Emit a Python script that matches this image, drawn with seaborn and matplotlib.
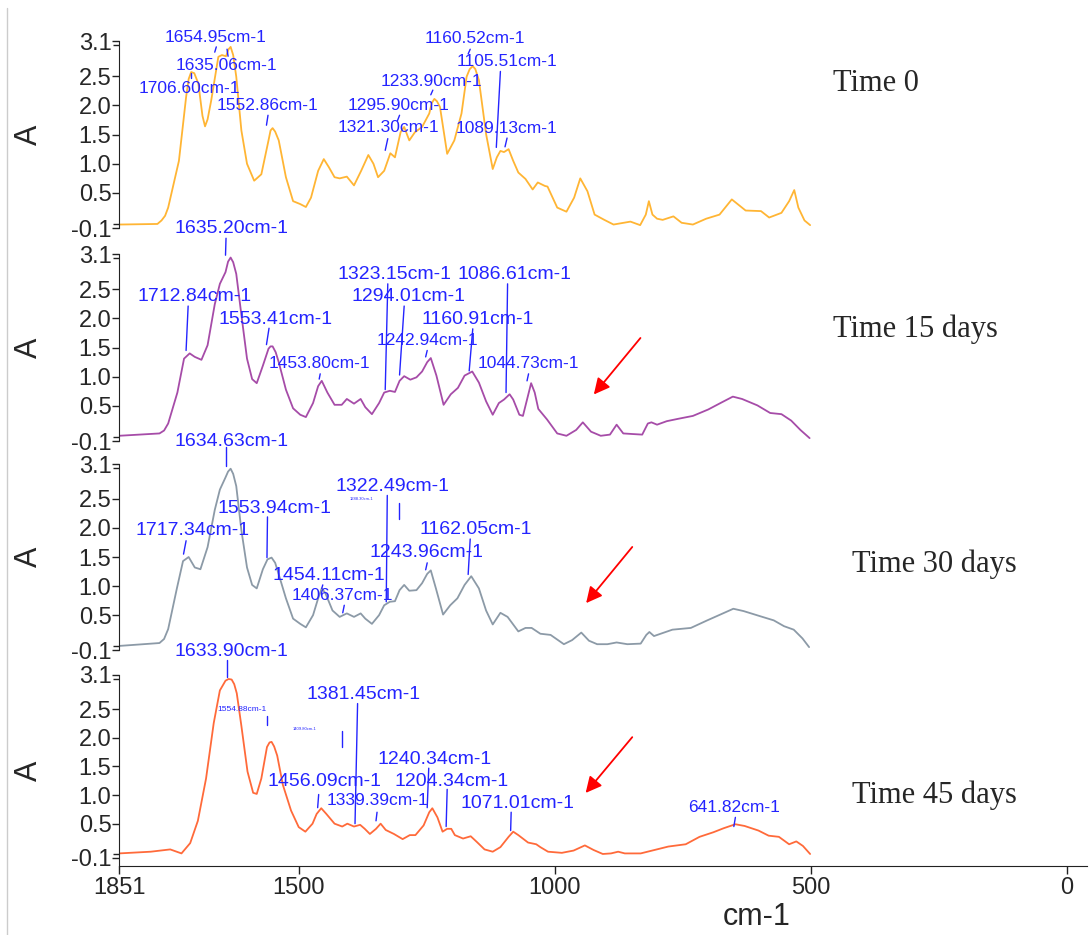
# FTIR spectra at 0, 15, 30 and 45 days, stacked panels

import numpy as np
import pandas as pd
import matplotlib.pyplot as plt
import seaborn as sns
from matplotlib.lines import Line2D

# spectra (wavenumber cm-1, absorbance)

t0_wn = [1851, 1776, 1768, 1761, 1755, 1734, 1720, 1715, 1710, 1704, 1696, 1688, 1683, 1678, 1671,
         1657, 1650, 1642, 1637, 1633, 1628, 1622, 1612, 1601, 1587, 1573, 1559, 1555, 1551, 1546,
         1539, 1525, 1511, 1497, 1486, 1476, 1462, 1451, 1441, 1430, 1420, 1406, 1392, 1378, 1364,
         1354, 1345, 1333, 1321, 1312, 1301, 1294, 1284, 1273, 1259, 1245, 1240, 1235, 1230, 1224,
         1210, 1196, 1182, 1172, 1166, 1160, 1155, 1148, 1134, 1121, 1113, 1106, 1099, 1090, 1081,
         1071, 1057, 1043, 1033, 1019, 1014, 995, 977, 962, 950, 936, 922, 903, 885, 852,
         833, 822, 816, 809, 800, 789, 768, 752, 730, 704, 678, 654, 627, 597, 581,
         557, 542, 532, 524, 512, 501]
t0_abs = [-0.04, -0.03, 0.03, 0.11, 0.25, 1.05, 2.14, 2.45, 2.57, 2.55, 2.37, 1.82, 1.64, 1.76, 2.08,
          2.83, 2.86, 2.84, 2.96, 3.00, 2.86, 2.49, 1.57, 1.00, 0.71, 0.82, 1.40, 1.57, 1.61, 1.55,
          1.40, 0.77, 0.36, 0.31, 0.26, 0.42, 0.88, 1.08, 0.94, 0.77, 0.75, 0.78, 0.63, 0.88, 1.15,
          1.00, 0.77, 0.88, 1.18, 1.11, 1.54, 1.63, 1.40, 1.54, 1.63, 1.86, 2.04, 2.11, 2.07, 1.97,
          1.17, 1.40, 1.86, 2.49, 2.62, 2.67, 2.62, 2.43, 1.51, 0.91, 1.11, 1.22, 1.20, 1.25, 1.05,
          0.85, 0.74, 0.56, 0.68, 0.62, 0.61, 0.25, 0.18, 0.42, 0.75, 0.53, 0.13, 0.04, -0.04, 0.01,
          -0.05, 0.13, 0.36, 0.13, 0.06, 0.04, 0.10, -0.01, -0.04, 0.06, 0.13, 0.39, 0.20, 0.19, 0.08,
          0.16, 0.36, 0.55, 0.25, 0.03, -0.05]

t15_wn = [1851, 1772, 1763, 1755, 1737, 1724, 1713, 1703, 1690, 1678, 1664, 1654, 1643, 1638, 1633,
          1628, 1622, 1612, 1601, 1591, 1582, 1570, 1559, 1555, 1551, 1545, 1539, 1525, 1511, 1497,
          1486, 1472, 1462, 1455, 1444, 1430, 1416, 1406, 1392, 1379, 1370, 1357, 1343, 1333, 1322,
          1312, 1303, 1294, 1282, 1270, 1259, 1249, 1242, 1231, 1217, 1203, 1189, 1176, 1161, 1148,
          1134, 1121, 1109, 1099, 1088, 1081, 1069, 1062, 1054, 1046, 1039, 1032, 1015, 995, 977,
          958, 945, 929, 910, 892, 879, 866, 848, 829, 818, 811, 800, 781, 759, 730,
          700, 674, 652, 634, 604, 579, 557, 538, 520, 502]
t15_abs = [-0.01, 0.03, 0.08, 0.20, 0.73, 1.31, 1.40, 1.34, 1.29, 1.54, 2.24, 2.59, 2.79, 2.97, 3.04,
           2.96, 2.76, 2.06, 1.31, 0.96, 0.89, 1.19, 1.48, 1.52, 1.52, 1.42, 1.25, 0.78, 0.46, 0.35,
           0.31, 0.55, 0.84, 0.93, 0.73, 0.52, 0.52, 0.62, 0.54, 0.62, 0.48, 0.36, 0.55, 0.73, 0.76,
           0.74, 0.93, 1.01, 0.95, 0.99, 1.09, 1.25, 1.32, 1.02, 0.52, 0.70, 0.81, 1.02, 1.09, 0.90,
           0.58, 0.35, 0.55, 0.61, 0.70, 0.61, 0.35, 0.33, 0.61, 0.89, 0.73, 0.45, 0.27, 0.03, -0.01,
           0.09, 0.22, 0.06, -0.01, 0.01, 0.18, 0.03, 0.02, 0.01, 0.20, 0.22, 0.18, 0.24, 0.28, 0.33,
           0.44, 0.56, 0.66, 0.62, 0.51, 0.38, 0.36, 0.25, 0.09, -0.05]

t30_wn = [1851, 1772, 1763, 1755, 1738, 1726, 1715, 1703, 1692, 1678, 1664, 1654, 1643, 1638, 1633,
          1628, 1622, 1612, 1601, 1591, 1582, 1570, 1561, 1553, 1546, 1539, 1525, 1511, 1497, 1486,
          1472, 1462, 1455, 1448, 1434, 1420, 1406, 1392, 1379, 1370, 1357, 1343, 1333, 1322, 1312,
          1303, 1294, 1284, 1270, 1259, 1249, 1242, 1232, 1218, 1204, 1190, 1176, 1163, 1148, 1134,
          1121, 1106, 1092, 1071, 1057, 1045, 1028, 1008, 982, 966, 948, 933, 917, 897, 879,
          858, 832, 821, 815, 806, 793, 770, 734, 702, 679, 651, 631, 598, 572, 552,
          533, 516, 503]
t30_abs = [-0.03, 0.02, 0.09, 0.26, 0.96, 1.43, 1.50, 1.32, 1.29, 1.67, 2.31, 2.66, 2.87, 2.97, 3.02,
           2.93, 2.72, 1.96, 1.32, 1.02, 0.96, 1.29, 1.46, 1.49, 1.40, 1.20, 0.79, 0.44, 0.35, 0.29,
           0.50, 0.79, 0.96, 0.88, 0.58, 0.47, 0.53, 0.47, 0.53, 0.44, 0.35, 0.50, 0.67, 0.73, 0.74,
           0.93, 1.02, 0.92, 0.93, 1.05, 1.21, 1.27, 0.96, 0.51, 0.67, 0.79, 1.02, 1.17, 0.96, 0.58,
           0.34, 0.54, 0.47, 0.22, 0.28, 0.28, 0.18, 0.16, 0.00, 0.07, 0.20, 0.06, 0.00, 0.00, 0.03,
           0.00, 0.01, 0.16, 0.21, 0.14, 0.18, 0.25, 0.28, 0.41, 0.50, 0.61, 0.57, 0.48, 0.41, 0.31,
           0.25, 0.10, -0.05]

t45_wn = [1851, 1789, 1751, 1729, 1712, 1697, 1681, 1666, 1654, 1643, 1637, 1631, 1626, 1621, 1612,
          1600, 1589, 1582, 1573, 1562, 1557, 1553, 1548, 1542, 1531, 1515, 1500, 1487, 1473, 1465,
          1456, 1446, 1430, 1415, 1405, 1392, 1380, 1371, 1361, 1349, 1340, 1330, 1314, 1297, 1283,
          1272, 1256, 1245, 1239, 1229, 1219, 1210, 1202, 1195, 1179, 1164, 1152, 1137, 1121, 1106,
          1090, 1081, 1071, 1052, 1036, 1028, 1013, 986, 963, 941, 924, 906, 890, 876, 863,
          832, 805, 778, 744, 717, 690, 670, 647, 629, 602, 582, 562, 542, 528, 515,
          501]
t45_abs = [-0.02, 0.01, 0.05, -0.02, 0.16, 0.55, 1.29, 2.26, 2.83, 3.00, 3.03, 3.02, 2.94, 2.78, 2.21,
           1.41, 1.04, 1.02, 1.29, 1.84, 1.92, 1.93, 1.85, 1.69, 1.18, 0.73, 0.44, 0.36, 0.50, 0.67,
           0.77, 0.67, 0.50, 0.45, 0.50, 0.45, 0.48, 0.41, 0.32, 0.41, 0.50, 0.39, 0.32, 0.23, 0.30,
           0.30, 0.47, 0.70, 0.77, 0.61, 0.36, 0.41, 0.41, 0.30, 0.24, 0.28, 0.18, 0.05, 0.01, 0.09,
           0.27, 0.36, 0.30, 0.17, 0.14, 0.09, 0.01, -0.01, 0.03, 0.12, 0.04, -0.03, -0.02, 0.01, -0.02,
           -0.02, 0.04, 0.10, 0.14, 0.27, 0.35, 0.42, 0.49, 0.46, 0.38, 0.29, 0.27, 0.14, 0.19, 0.11,
           -0.03]

# peak labels: text, label x, label y, leader line (x1, y1, x2, y2), font size
t0_peaks = [('1654.95cm-1', 1662, 3.16, 1661, 3.00, 1664, 2.91, 12.5),
            ('1635.06cm-1', 1642, 2.68, 1640, 2.96, 1638, 2.84, 12.5),
            ('1706.60cm-1', 1714, 2.29, 1711, 2.56, 1711, 2.47, 12.5),
            ('1552.86cm-1', 1560, 2.00, 1560, 1.83, 1563, 1.66, 12.5),
            ('1321.30cm-1', 1325, 1.62, 1326, 1.43, 1331, 1.23, 12.5),
            ('1295.90cm-1', 1304, 2.00, 1303, 1.83, 1307, 1.74, 12.5),
            ('1233.90cm-1', 1240, 2.41, 1238, 2.26, 1242, 2.18, 12.5),
            ('1160.52cm-1', 1155, 3.14, 1165, 2.96, 1169, 2.88, 12.5),
            ('1105.51cm-1', 1093, 2.75, 1106, 2.58, 1114, 1.28, 12.5),
            ('1089.13cm-1', 1094, 1.61, 1093, 1.44, 1097, 1.29, 12.5)]

t15_peaks = [('1635.20cm-1', 1631, 3.54, 1642, 3.37, 1643, 3.08, 14),
             ('1712.84cm-1', 1704, 2.37, 1716, 2.21, 1720, 1.45, 14),
             ('1553.41cm-1', 1545, 1.98, 1558, 1.83, 1563, 1.55, 14),
             ('1453.80cm-1', 1460, 1.23, 1458, 1.05, 1460, 0.96, 12.5),
             ('1323.15cm-1', 1312, 2.75, 1326, 2.59, 1331, 0.78, 14),
             ('1294.01cm-1', 1286, 2.37, 1294, 2.21, 1303, 1.03, 14),
             ('1160.91cm-1', 1150, 1.98, 1160, 1.82, 1167, 1.10, 14),
             ('1242.94cm-1', 1249, 1.62, 1249, 1.45, 1252, 1.34, 12.5),
             ('1086.61cm-1', 1078, 2.75, 1092, 2.59, 1095, 0.73, 14),
             ('1044.73cm-1', 1051, 1.23, 1051, 1.05, 1054, 0.93, 12.5)]

t30_peaks = [('1634.63cm-1', 1631, 3.49, 1642, 3.39, 1642, 3.07, 14),
             ('1717.34cm-1', 1708, 1.96, 1720, 1.78, 1725, 1.55, 14),
             ('1553.94cm-1', 1548, 2.34, 1561, 2.19, 1562, 1.49, 14),
             ('1322.49cm-1', 1317, 2.72, 1327, 2.56, 1329, 0.73, 14),
             ('1288.30cm-1', 1378, 2.50, 1305, 2.43, 1305, 2.16, 3),
             ('1162.05cm-1', 1154, 1.97, 1165, 1.81, 1169, 1.20, 14),
             ('1243.96cm-1', 1251, 1.58, 1249, 1.40, 1252, 1.28, 14),
             ('1454.11cm-1', 1441, 1.18, 1453, 1.02, 1455, 0.96, 14),
             ('1406.37cm-1', 1414, 0.83, 1411, 0.67, 1414, 0.54, 12.5)]

t45_peaks = [('1633.90cm-1', 1631, 3.51, 1641, 3.37, 1641, 3.06, 14),
             ('1554.88cm-1', 1611, 2.50, 1561, 2.38, 1561, 2.23, 6),
             ('1409.80cm-1', 1488, 2.15, 1416, 2.12, 1416, 1.84, 3),
             ('1381.45cm-1', 1374, 2.76, 1385, 2.60, 1390, 0.50, 14),
             ('1240.34cm-1', 1235, 1.62, 1246, 1.47, 1249, 0.78, 14),
             ('1456.09cm-1', 1450, 1.24, 1461, 1.01, 1463, 0.78, 14),
             ('1204.34cm-1', 1201, 1.24, 1210, 1.10, 1212, 0.45, 14),
             ('1339.39cm-1', 1347, 0.90, 1347, 0.70, 1349, 0.55, 12.5),
             ('1071.01cm-1', 1072, 0.86, 1085, 0.70, 1086, 0.38, 14),
             ('641.82cm-1', 649, 0.79, 647, 0.61, 650, 0.45, 12.5)]

# red arrows (tail, head) in data units of each panel
t15_arrow = (829, 1.70, 927, 0.66)
t30_arrow = (845, 1.71, 942, 0.67)
t45_arrow = (845, 2.05, 943, 1.00)

colors = ['#ffb534', '#a64ca8', '#8c9aa7', '#ff6a3a']
titles = ['Time 0', 'Time 15 days', 'Time 30 days', 'Time 45 days']
yticks = [-0.1, 0.5, 1.0, 1.5, 2.0, 2.5, 3.1]
ytick_labels = ['-0.1', '0.5', '1.0', '1.5', '2.0', '2.5', '3.1']
blue = '#2424ff'

sns.set_style('ticks')
plt.rcParams['font.family'] = ['Liberation Sans', 'DejaVu Sans']

fig = plt.figure(figsize=(10.91, 9.35), dpi=100)

# panel boxes (figure fractions)
boxes = [[0.1091, 0.7561, 0.8873, 0.2000],
         [0.1091, 0.5283, 0.8873, 0.2000],
         [0.1091, 0.3048, 0.8873, 0.1989],
         [0.1091, 0.0738, 0.8873, 0.2043]]
title_pos = [(0.7635, 0.911), (0.7635, 0.648), (0.781, 0.396), (0.781, 0.149)]

spectra = [(t0_wn, t0_abs, t0_peaks, None),
           (t15_wn, t15_abs, t15_peaks, t15_arrow),
           (t30_wn, t30_abs, t30_peaks, t30_arrow),
           (t45_wn, t45_abs, t45_peaks, t45_arrow)]

for i, (wn, ab, peaks, arrow) in enumerate(spectra):
    ax = fig.add_axes(boxes[i])
    df = pd.DataFrame({'wn': wn, 'A': ab})
    sns.lineplot(data=df, x='wn', y='A', color=colors[i], lw=1.3, ax=ax)

    for lab, tx, ty, x1, y1, x2, y2, fs in peaks:
        ax.text(tx, ty, lab, color=blue, fontsize=fs, ha='center', va='center', clip_on=False)
        ax.plot([x1, x2], [y1, y2], color=blue, lw=1, clip_on=False)

    if arrow is not None:
        ax.annotate('', xy=(arrow[2], arrow[3]), xytext=(arrow[0], arrow[1]),
                    arrowprops=dict(arrowstyle='-|>', color='red', lw=1.3, mutation_scale=24),
                    annotation_clip=False)

    last = i == 3
    ax.set_xlim(1851, -40)
    ax.set_ylim(-0.24 if last else -0.1, 3.1)
    ax.set_yticks(yticks)
    ax.set_yticklabels(ytick_labels)
    ax.set_yticks([-0.03, 3.03], minor=True)
    ax.tick_params(axis='y', which='major', length=5, width=1, pad=0.5, labelsize=17, color='#222222')
    ax.tick_params(axis='y', which='minor', length=4, width=1, color='#222222')
    ax.set_ylabel('A', fontsize=22)
    ax.yaxis.set_label_coords(-0.078, 0.5)

    ax.spines['top'].set_visible(False)
    ax.spines['right'].set_visible(False)
    ax.spines['left'].set_color('#222222')
    if last:
        ax.spines['bottom'].set_color('#222222')
        ax.set_xticks([1851, 1500, 1000, 500, 0])
        ax.set_xticklabels(['1851', '1500', '1000', '500', '0'])
        ax.tick_params(axis='x', length=6, width=1, pad=2, labelsize=17, color='#222222')
        ax.set_xlabel('cm-1', fontsize=22)
        ax.xaxis.set_label_coords(0.659, -0.19)
    else:
        ax.spines['bottom'].set_visible(False)
        ax.set_xticks([])
        ax.set_xlabel('')

    fig.text(title_pos[i][0], title_pos[i][1], titles[i], fontsize=22, ha='left', va='center',
             family=['Liberation Serif', 'DejaVu Serif'])

# thin frame line on the left edge
fig.add_artist(Line2D([7 / 1091, 7 / 1091], [0, 0.991], color='#cccccc', lw=1))

plt.savefig('out.png', dpi=100)
